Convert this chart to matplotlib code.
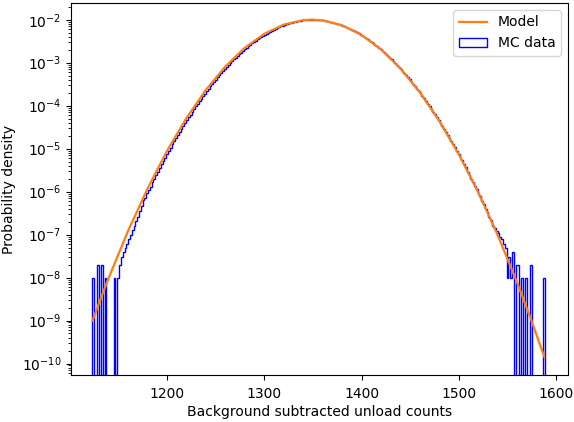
#!/usr/bin/env python3

import numpy as np
import matplotlib
matplotlib.use('Agg')
import matplotlib.pyplot as plt


# model curve (orange)
model_x = [1123.5, 1140, 1160, 1180, 1200, 1220, 1240, 1260, 1280, 1300,
           1320, 1340, 1349, 1360, 1380, 1400, 1420, 1440, 1460, 1480,
           1500, 1520, 1540, 1560, 1575, 1587.5]
model_y = [9.9e-10, 9.6e-9, 1.20e-7, 1.16e-6, 8.77e-6, 5.12e-5, 2.32e-4, 8.13e-4, 2.22e-3, 4.69e-3,
           7.69e-3, 9.79e-3, 1.005e-2, 9.66e-3, 7.41e-3, 4.40e-3, 2.03e-3, 7.26e-4, 2.01e-4, 4.34e-5,
           7.24e-6, 9.39e-7, 9.44e-8, 7.36e-9, 9.2e-10, 1.46e-10]

# MC histogram, 250 bins between data_min and data_max (density per bin)
data_min = 1123.0
data_max = 1588.0
n_bins = 250
mc_density = [
    1e-8, 0, 0, 2e-8, 0, 2e-8, 0, 1e-8, 0, 0,
    0, 0, 1e-8, 0, 1e-8, 2e-8, 3e-8, 4e-8, 5e-8, 6e-8,
    8e-8, 1.0e-7, 1.3e-7, 1.6e-7, 2.1e-7, 2.6e-7, 3.6e-7, 4.6e-7, 6.3e-7, 7.0e-7,
    9.4e-7, 1.1e-6, 1.3e-6, 1.7e-6, 2.0e-6, 2.5e-6, 2.9e-6, 3.5e-6, 4.3e-6, 5.1e-6,
    6.2e-6, 7.4e-6, 8.8e-6, 1.05e-5, 1.25e-5, 1.48e-5, 1.75e-5, 2.07e-5, 2.43e-5, 2.86e-5,
    3.35e-5, 3.92e-5, 4.58e-5, 5.33e-5, 6.19e-5, 7.19e-5, 8.32e-5, 9.62e-5, 1.11e-4, 1.27e-4,
    1.46e-4, 1.67e-4, 1.91e-4, 2.18e-4, 2.48e-4, 2.81e-4, 3.18e-4, 3.60e-4, 4.06e-4, 4.56e-4,
    5.12e-4, 5.73e-4, 6.40e-4, 7.14e-4, 7.94e-4, 8.81e-4, 9.77e-4, 1.08e-3, 1.19e-3, 1.31e-3,
    1.44e-3, 1.57e-3, 1.72e-3, 1.88e-3, 2.05e-3, 2.22e-3, 2.40e-3, 2.60e-3, 2.81e-3, 3.02e-3,
    3.24e-3, 3.48e-3, 3.72e-3, 3.97e-3, 4.23e-3, 4.49e-3, 4.76e-3, 5.04e-3, 5.32e-3, 5.60e-3,
    5.89e-3, 6.17e-3, 6.46e-3, 6.73e-3, 7.02e-3, 7.29e-3, 7.57e-3, 7.83e-3, 8.08e-3, 8.33e-3,
    8.56e-3, 8.78e-3, 8.99e-3, 9.18e-3, 9.35e-3, 9.51e-3, 9.65e-3, 9.77e-3, 9.87e-3, 9.94e-3,
    1.00e-2, 1.00e-2, 1.00e-2, 1.00e-2, 9.95e-3, 9.88e-3, 9.78e-3, 9.65e-3, 9.52e-3, 9.36e-3,
    9.19e-3, 9.01e-3, 8.80e-3, 8.58e-3, 8.34e-3, 8.11e-3, 7.85e-3, 7.59e-3, 7.31e-3, 7.04e-3,
    6.76e-3, 6.48e-3, 6.20e-3, 5.91e-3, 5.63e-3, 5.34e-3, 5.06e-3, 4.78e-3, 4.52e-3, 4.25e-3,
    3.99e-3, 3.75e-3, 3.50e-3, 3.27e-3, 3.04e-3, 2.83e-3, 2.62e-3, 2.43e-3, 2.24e-3, 2.06e-3,
    1.89e-3, 1.74e-3, 1.59e-3, 1.45e-3, 1.32e-3, 1.20e-3, 1.09e-3, 9.85e-4, 8.90e-4, 8.02e-4,
    7.20e-4, 6.46e-4, 5.78e-4, 5.16e-4, 4.60e-4, 4.09e-4, 3.64e-4, 3.21e-4, 2.84e-4, 2.50e-4,
    2.20e-4, 1.93e-4, 1.69e-4, 1.48e-4, 1.29e-4, 1.12e-4, 9.73e-5, 8.43e-5, 7.28e-5, 6.28e-5,
    5.40e-5, 4.64e-5, 3.97e-5, 3.40e-5, 2.89e-5, 2.47e-5, 2.10e-5, 1.77e-5, 1.50e-5, 1.27e-5,
    1.07e-5, 8.9e-6, 7.5e-6, 6.2e-6, 5.4e-6, 4.3e-6, 3.7e-6, 2.9e-6, 2.5e-6, 2.0e-6,
    1.7e-6, 1.35e-6, 1.17e-6, 9.0e-7, 7.8e-7, 5.9e-7, 5.2e-7, 3.9e-7, 3.4e-7, 2.6e-7,
    2.2e-7, 1.6e-7, 1.4e-7, 1.2e-7, 1.1e-7, 9e-8, 8e-8, 6e-8, 5e-8, 1e-8,
    3e-8, 1e-8, 4e-8, 0, 2e-8, 2e-8, 0, 1e-8, 0, 1e-8,
    0, 0, 2e-8, 0, 0, 0, 0, 0, 0, 1e-8,
]


def main():
    edges = np.linspace(data_min, data_max, n_bins + 1)
    centers = 0.5 * (edges[:-1] + edges[1:])

    fig = plt.figure(figsize=(5.74, 4.22), dpi=100)
    ax = fig.add_axes([71/574, 47/422, 497/574, 372/422])

    # model first so it comes first in the legend; keep it drawn over the histogram
    ax.plot(model_x, model_y, color='C1', linewidth=1.6, label='Model', zorder=3)
    ax.hist(centers, bins=edges, weights=mc_density, histtype='step',
            color='blue', linewidth=1.0, label='MC data', zorder=2)

    ax.set_yscale('log')
    ax.set_ylim(5.4e-11, 2.45e-2)
    ax.set_xlim(1101.5, 1612)
    ax.tick_params(axis='x', pad=5)
    ax.set_xlabel('Background subtracted unload counts', labelpad=3)
    ax.set_ylabel('Probability density')
    ax.legend(loc='upper right')

    fig.savefig('out.png', dpi=100)


if __name__ == '__main__':
    main()
